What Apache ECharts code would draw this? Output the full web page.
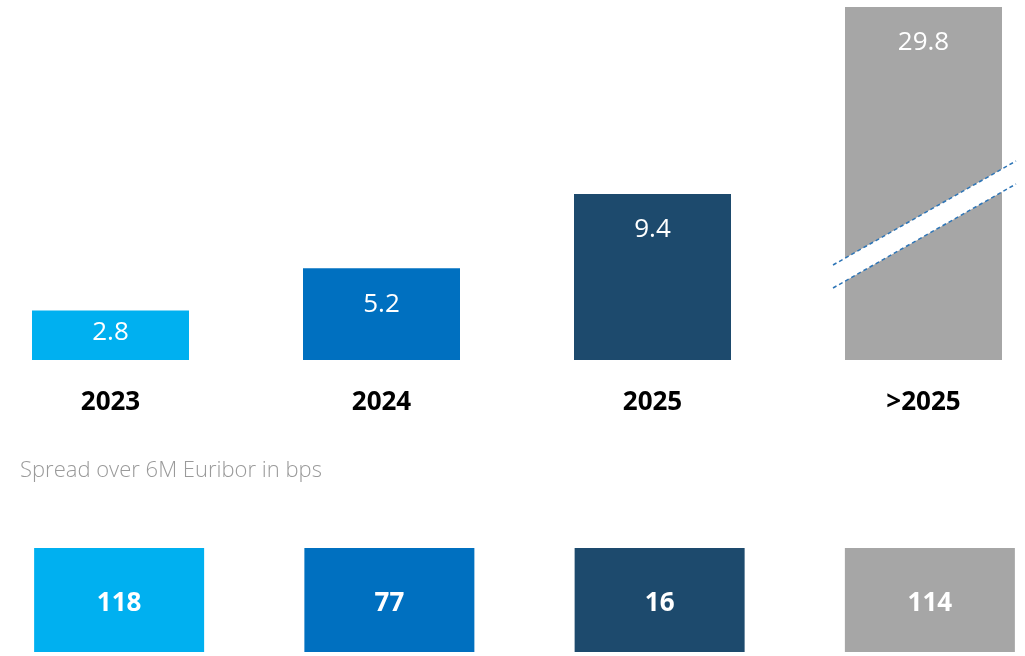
<!DOCTYPE html>
<html>
<head>
<meta charset="utf-8">
<script src="https://cdn.jsdelivr.net/npm/echarts@6/dist/echarts.min.js"></script>
<style>
  html, body { margin: 0; padding: 0; background: #fff; }
  #main { width: 1025px; height: 656px; }
</style>
</head>
<body>
<div id="main"></div>
<script>
// maturities and amounts (bn), spreads over 6M Euribor
const years = ['2023', '2024', '2025', '>2025']
const amounts = [2.8, 5.2, 9.4, 29.8]
const spreadBps = [118, 77, 16, 114]
const colors = ['#00B0F0', '#0070C0', '#1D4A6D', '#A6A6A6']

const fontFamily = '"Open Sans", "Noto Sans", sans-serif'

const chart = echarts.init(document.getElementById('main'))

const option = {
  animation: false,
  textStyle: { fontFamily: fontFamily },
  grid: [
    // top: amounts
    { left: -25, top: 7, width: 1084, height: 353, outerBoundsMode: 'none', containLabel: false },
    // bottom: spread boxes
    { left: -16, top: 548, width: 1081, height: 104, outerBoundsMode: 'none', containLabel: false }
  ],
  xAxis: [
    {
      gridIndex: 0,
      type: 'category',
      data: years,
      axisLine: { show: false },
      axisTick: { show: false },
      axisLabel: {
        margin: 30,
        color: '#000',
        fontSize: 26,
        fontWeight: 'bold',
        fontFamily: fontFamily
      }
    },
    {
      gridIndex: 1,
      type: 'category',
      data: years,
      show: false
    }
  ],
  yAxis: [
    {
      gridIndex: 0,
      type: 'value',
      min: 0,
      max: 29.8,
      show: false,
      splitLine: { show: false },
      // the long-dated bar is cut, like in the original slide
      breaks: [{ start: 12, end: 22.01, gap: '1%' }],
      breakArea: { show: false }
    },
    {
      gridIndex: 1,
      type: 'value',
      min: 0,
      max: 1,
      show: false
    }
  ],
  series: [
    {
      type: 'bar',
      xAxisIndex: 0,
      yAxisIndex: 0,
      barWidth: 157,
      data: amounts.map((v, i) => ({
        value: v,
        itemStyle: { color: colors[i] },
        label: i === 0 ? { position: 'inside', offset: [0, -3] } : {}
      })),
      label: {
        show: true,
        position: 'insideTop',
        distance: 23,
        color: '#fff',
        fontSize: 26,
        fontFamily: fontFamily,
        formatter: p => amounts[p.dataIndex].toFixed(1)
      }
    },
    {
      type: 'bar',
      xAxisIndex: 1,
      yAxisIndex: 1,
      barWidth: 170,
      data: spreadBps.map((v, i) => ({
        value: 1,
        itemStyle: { color: colors[i] }
      })),
      label: {
        show: true,
        position: 'inside',
        offset: [0, 4],
        color: '#fff',
        fontSize: 26,
        fontWeight: 'bold',
        fontFamily: fontFamily,
        formatter: p => String(spreadBps[p.dataIndex])
      }
    }
  ],
  graphic: [
    {
      type: 'text',
      left: 20,
      top: 460,
      style: {
        text: 'Spread over 6M Euribor in bps',
        fill: '#9A9A9A',
        font: '300 22px ' + fontFamily
      }
    },
    // break mark across the >2025 bar
    {
      type: 'polygon',
      z: 100,
      shape: { points: [[833, 265], [1016, 161], [1016, 184], [833, 288]] },
      style: { fill: '#fff' }
    },
    {
      type: 'line',
      z: 101,
      shape: { x1: 833, y1: 265, x2: 1016, y2: 161 },
      style: { stroke: '#2E75B6', lineWidth: 1.5, lineDash: [4, 3] }
    },
    {
      type: 'line',
      z: 101,
      shape: { x1: 833, y1: 288, x2: 1016, y2: 184 },
      style: { stroke: '#2E75B6', lineWidth: 1.5, lineDash: [4, 3] }
    }
  ]
}

chart.setOption(option)
</script>
</body>
</html>
